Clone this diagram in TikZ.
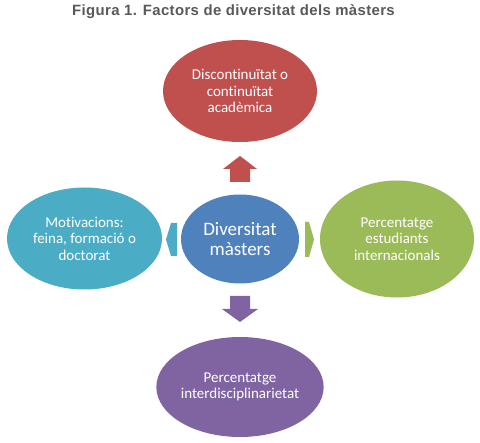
\documentclass[tikz,border=0pt]{standalone}
\usepackage{fontspec}
\setmainfont{Carlito}[Ligatures={NoCommon}]
\newfontfamily\titlefont{Liberation Sans}[LetterSpace=2.5]
\usetikzlibrary{shapes.geometric}
\definecolor{cred}{HTML}{C0504D}
\definecolor{cblue}{HTML}{4F81BD}
\definecolor{ccyan}{HTML}{4BACC6}
\definecolor{cgreen}{HTML}{9BBB59}
\definecolor{cpurple}{HTML}{8064A2}
\definecolor{ctitle}{HTML}{595959}
\tikzset{
  bubble/.style={ellipse, draw=none, inner sep=0pt, text=white, align=center,
    font=\fontsize{15}{16.5}\selectfont},
  blockarrow/.style={draw=none}
}
\begin{document}
\begin{tikzpicture}[x=1pt,y=-1pt]
\useasboundingbox[fill=white] (0,0) rectangle (480,443);
\node[font=\titlefont\bfseries\fontsize{14.9}{16}\selectfont, text=ctitle, anchor=base] (title) at (233.5,15.5) {Figura 1. Factors de diversitat dels màsters};
% block arrows
\fill[cred] (240,156) -- (257,169) -- (250,169) -- (250,182) -- (230,182) -- (230,169) -- (223,169) -- cycle;
\fill[cpurple] (230,296) -- (250,296) -- (250,309) -- (258,309) -- (240,322) -- (222,309) -- (230,309) -- cycle;
\fill[ccyan] (166,239.5) -- (171,223) -- (177,223) -- (177,256) -- (171,256) -- cycle;
\fill[cgreen] (305,222) -- (309,222) -- (314,239.5) -- (309,257) -- (305,257) -- cycle;
% ellipses
\node[bubble, fill=cblue, minimum width=118pt, minimum height=89pt,
  font=\fontsize{19}{20}\selectfont] (center) at (240,239) {Diversitat\\màsters};
\node[bubble, fill=cred, minimum width=154pt, minimum height=102pt] (top) at (240,91) {Discontinuïtat o\\continuïtat\\acadèmica};
\node[bubble, fill=ccyan, minimum width=155pt, minimum height=102pt] (left) at (84.5,238.5) {Motivacions:\\feina, formació o\\doctorat};
\node[bubble, fill=cgreen, minimum width=154pt, minimum height=117pt] (right) at (397,239) {Percentatge\\estudiants\\internacionals};
\node[bubble, fill=cpurple, minimum width=160pt, minimum height=100pt] (bottom) at (240,387) {Percentatge\\interdisciplinarietat};
\end{tikzpicture}
\end{document}
